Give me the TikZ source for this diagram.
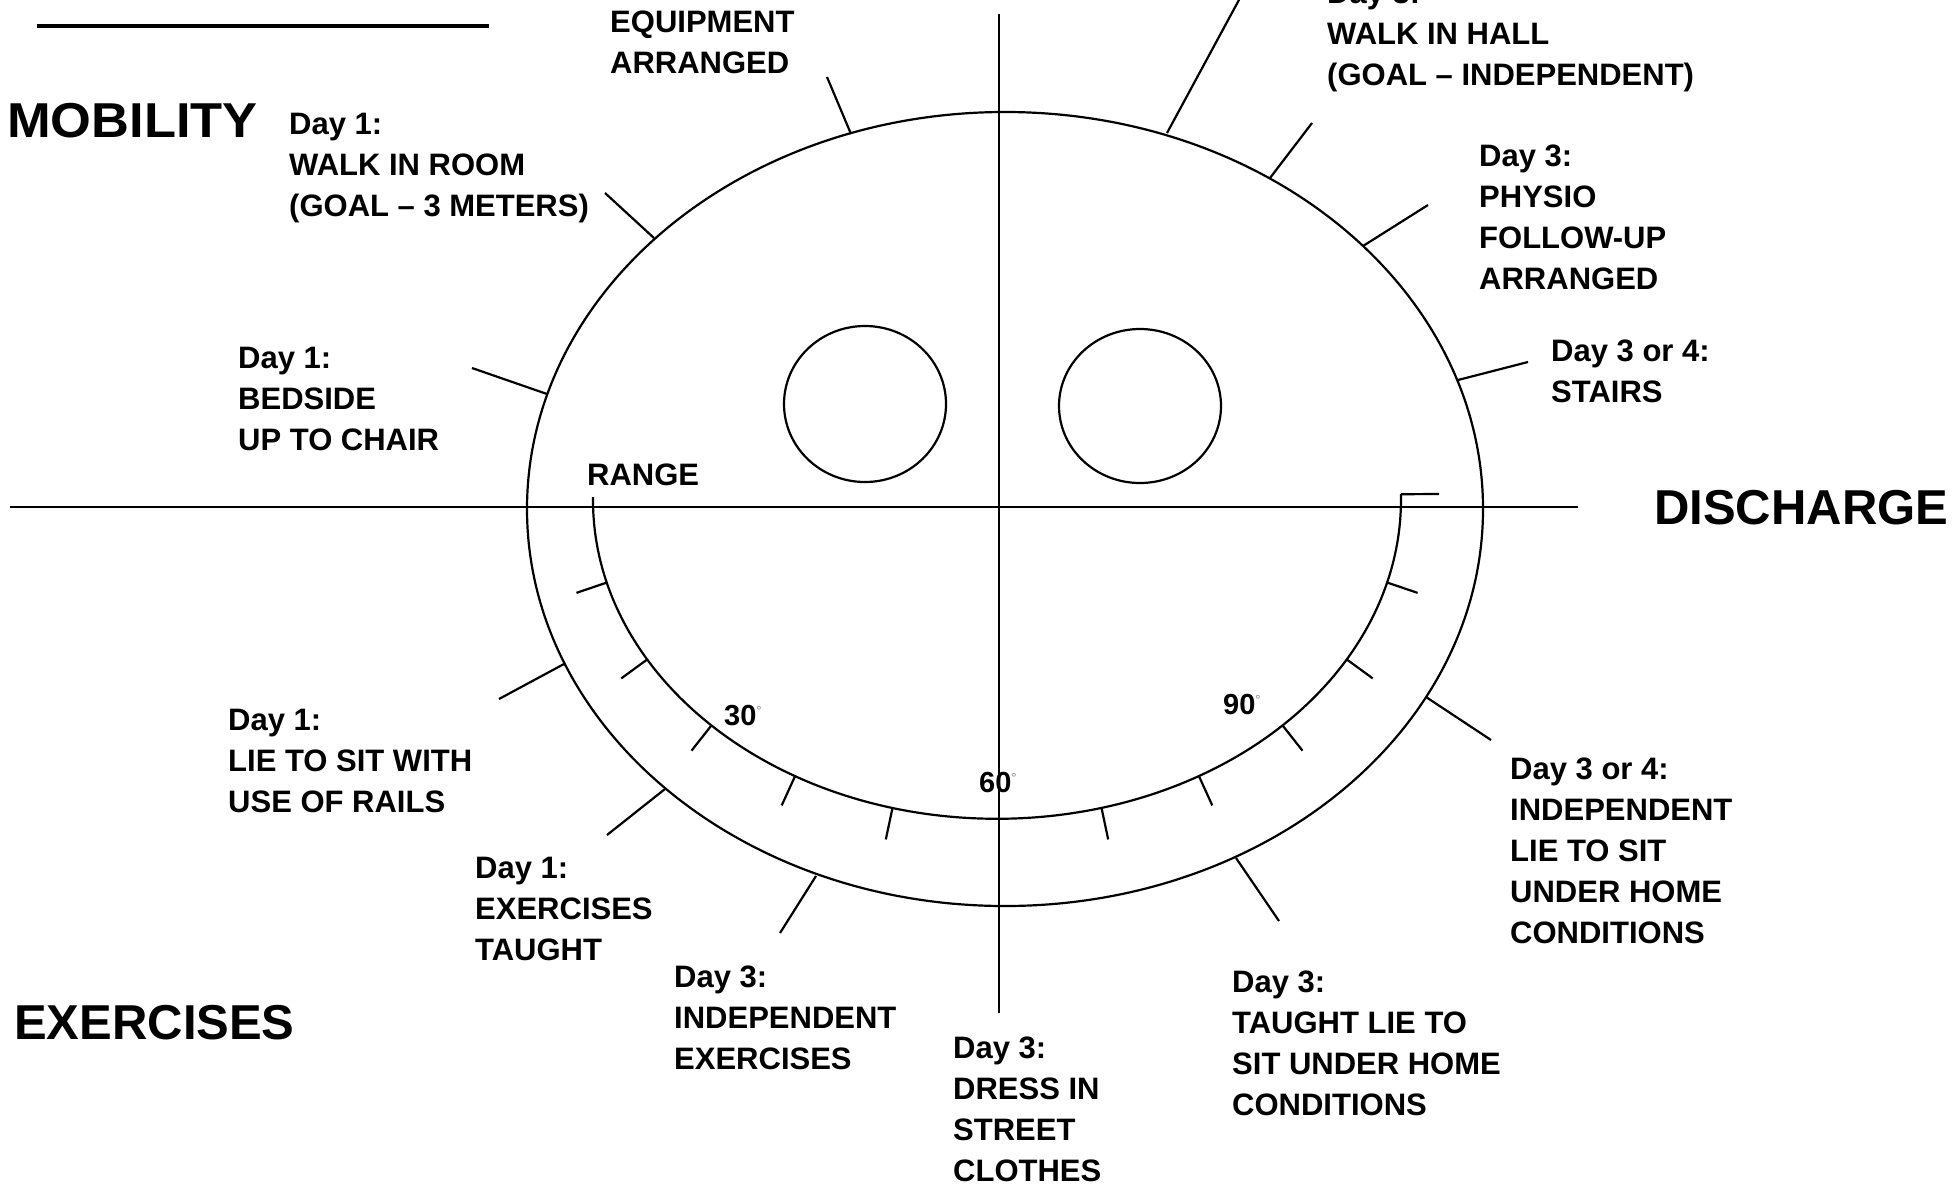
\documentclass[tikz,border=0pt]{standalone}
\usepackage{fontspec}
\setmainfont{Liberation Sans}
\usetikzlibrary{calc}
\begin{document}
\begin{tikzpicture}[x=1pt,y=-1pt,
  ln/.style={line width=2.2pt},
  lbl/.style={font=\fontsize{31}{41}\selectfont\bfseries, align=left, anchor=base west, inner sep=0pt},
  big/.style={font=\fontsize{49}{52}\selectfont\bfseries, anchor=base west, inner sep=0pt},
  num/.style={font=\fontsize{29}{30}\selectfont\bfseries, anchor=base west, inner sep=0pt}]
\useasboundingbox (0,0) rectangle (1953,1192);
\fill[white] (0,0) rectangle (1953,1192);

% top-left line
\coordinate (tl1) at (37,26);
\coordinate (tl2) at (489,26);
\draw[line width=4pt] (tl1) -- (tl2);

% face
\draw[ln] (1005,509) ellipse [x radius=478, y radius=397];
\draw[ln] (865,404) ellipse [x radius=81, y radius=78];
\draw[ln] (1140,406) ellipse [x radius=81, y radius=77];

% axes
\coordinate (hl) at (10,507);
\coordinate (hr) at (1578,507);
\coordinate (vt) at (999,14);
\coordinate (vb) at (999,1013);
\draw[ln] (hl) -- (hr);
\draw[ln] (vt) -- (vb);

% range arc
\coordinate (rs) at (593,497);
\draw[ln] (rs) arc[start angle=180.5, end angle=-1, x radius=404, y radius=319] coordinate (re);
\coordinate (stub) at (1439,494);
\draw[ln] (re) -- (stub);

\foreach \t in {165,150,135,120,105,75,60,45,30,15}{
  \pgfmathsetmacro\px{997+404*cos(\t)}
  \pgfmathsetmacro\py{500+319*sin(\t)}
  \pgfmathsetmacro\nx{3.19*cos(\t)}
  \pgfmathsetmacro\ny{4.04*sin(\t)}
  \pgfmathsetmacro\nl{sqrt(\nx*\nx+\ny*\ny)}
  \coordinate (ti\t) at (\px,\py);
  \coordinate (to\t) at (\px+32*\nx/\nl, \py+32*\ny/\nl);
  \draw[ln] (ti\t) -- (to\t);
}

% leader lines on the outer ellipse
\foreach \n/\ax/\ay/\bx/\by in {
  a/851/134/827/77, b/654/238/605/193, c/547/394/472/368,
  d/1167/133/1240/-2, e/1270/178/1312/123, f/1363/246/1428/205,
  g/1458/380/1528/362, h/564/664/499/699, i/665/789/607/835,
  j/816/876/780/933, k/1426/697/1491/740, l/1236/858/1279/921}{
  \coordinate (la\n) at (\ax,\ay);
  \coordinate (lb\n) at (\bx,\by);
  \draw[ln] (la\n) -- (lb\n);
}

% labels (anchor = baseline of the last line)
\node[big] (mob) at (7,137) {\scalebox{1.07}[1]{MOBILITY}};
\node[big] (dis) at (1654,524) {DISCHARGE};
\node[big] (exe) at (14,1039) {EXERCISES};

\node[lbl] (t1) at (610,73) {EQUIPMENT\\ARRANGED};
\node[lbl] (t2) at (289,216) {Day 1:\\WALK IN ROOM\\(GOAL – 3 METERS)};
\node[lbl] (t3) at (238,450) {Day 1:\\BEDSIDE\\UP TO CHAIR};
\node[lbl] (t4) at (587,485) {RANGE};
\node[lbl] (t5) at (1327,85) {Day 3:\\WALK IN HALL\\(GOAL – INDEPENDENT)};
\node[lbl] (t6) at (1479,289) {Day 3:\\PHYSIO\\FOLLOW-UP\\ARRANGED};
\node[lbl] (t7) at (1551,402) {Day 3 or 4:\\STAIRS};
\node[lbl] (t8) at (228,812) {Day 1:\\LIE TO SIT WITH\\USE OF RAILS};
\node[lbl] (t9) at (475,960) {Day 1:\\EXERCISES\\TAUGHT};
\node[lbl] (t10) at (674,1069) {Day 3:\\INDEPENDENT\\EXERCISES};
\node[lbl] (t11) at (953,1181) {Day 3:\\DRESS IN\\STREET\\CLOTHES};
\node[lbl] (t12) at (1232,1115) {Day 3:\\TAUGHT LIE TO\\SIT UNDER HOME\\CONDITIONS};
\node[lbl] (t13) at (1510,943) {Day 3 or 4:\\INDEPENDENT\\LIE TO SIT\\UNDER HOME\\CONDITIONS};

\newcommand\degmark{\raisebox{10pt}{\fontsize{13}{13}\selectfont\mdseries\color{gray}°}}
\node[num] (n30) at (724,725) {30\degmark};
\node[num] (n60) at (979,792) {60\degmark};
\node[num] (n90) at (1223,714) {90\degmark};
\end{tikzpicture}
\end{document}
